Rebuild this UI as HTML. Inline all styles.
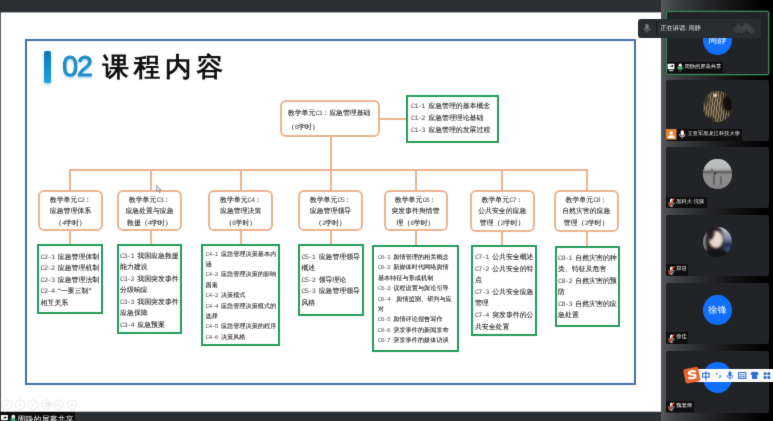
<!DOCTYPE html>
<html lang="zh">
<head>
<meta charset="utf-8">
<title>课程内容</title>
<style>
html,body{margin:0;padding:0;}
body{width:773px;height:421px;overflow:hidden;position:relative;background:#fff;font-family:"Liberation Sans",sans-serif;text-rendering:geometricPrecision;}
.abs{position:absolute;}
#all{position:absolute;left:0;top:0;width:773px;height:421px;filter:url(#soft);}
#topbar{left:-6px;top:-6px;width:667px;height:18px;background:#2d3033;box-shadow:0 1px 0 rgba(45,48,51,.4);}
#botbar{left:-6px;top:412px;width:785px;height:16px;background:#2d3033;box-shadow:0 -1px 0 rgba(45,48,51,.3);}
#leftedge{left:-6px;top:6px;width:7.3px;height:407px;background:#5d5f62;}
#slide{left:0;top:12px;width:661px;height:400px;background:#fff;}
#frame{left:25px;top:38.6px;width:607px;height:342px;border:2px solid #4672a3;}
#bluebar{left:44px;top:51px;width:6.5px;height:32px;border-radius:1.5px;background:linear-gradient(#0f78b4,#1ca4df);box-shadow:0 2px 3px rgba(30,140,200,.35);}
#num{left:62.3px;top:50.3px;font-size:28.5px;line-height:34px;color:#1f8dc8;letter-spacing:-1.1px;-webkit-text-stroke:0.95px #1f8dc8;text-shadow:0 1.5px 2.5px rgba(30,140,200,.45);}
#ttl{left:102.5px;top:49.8px;font-size:26.5px;line-height:34px;font-weight:bold;color:#111;letter-spacing:4.8px;white-space:nowrap;}
.ob{text-shadow:0 0 .5px rgba(50,50,50,.6);position:absolute;box-sizing:border-box;border:2px solid #ecb391;border-radius:6px;background:#fff;color:#383838;font-family:"Liberation Serif",serif;font-size:6.9px;line-height:11.5px;text-align:center;white-space:nowrap;}
.gb{text-shadow:0 0 .5px rgba(50,50,50,.6);position:absolute;box-sizing:border-box;border:2px solid #259c5a;background:#fff;color:#383838;font-family:"Liberation Serif",serif;font-size:6.9px;line-height:11.5px;white-space:nowrap;padding-left:1.6px;}
.gb.sm{padding-left:2.7px;}
.gb.sm{font-size:6.17px;line-height:10.4px;}
.ln{position:absolute;background:#ecb391;}
.c{font-family:"Liberation Mono",monospace;letter-spacing:-0.1em;line-height:0;color:#4a4a4a;text-shadow:none;}

#right{left:661px;top:-6px;width:118px;height:433px;background:linear-gradient(to right,#56595c 0,#46484b 8%,#3e4043 13%,#2a2b2d 33.2%,#151516 58.8%,#030303 83.5%,#000 95%);}
.tile{position:absolute;left:665.6px;width:103.8px;height:62.6px;background:#222326;border-radius:2px;box-sizing:border-box;overflow:hidden;}
.av{position:absolute;left:37.6px;width:28.6px;height:30.6px;border-radius:50%;overflow:hidden;}
.av.blue{background:#106ffb;color:#fff;text-align:center;font-size:9.2px;line-height:30.6px;white-space:nowrap;}
.lab{position:absolute;left:0.8px;bottom:0;height:11.3px;background:#0e0e0f;color:#f2f2f2;font-size:5.25px;line-height:11.3px;white-space:nowrap;}
.lab svg{position:absolute;top:0;left:0;}
#pop{left:638px;top:18.7px;width:122.8px;height:19px;background:#2a2d30;border-radius:3px;color:#e6e6e6;font-size:6.2px;line-height:19px;white-space:nowrap;}
#ime{left:694px;top:368.7px;width:85px;height:13px;background:#fdfdfe;border-radius:2px 0 0 2px;}
#bl{left:-6px;top:411.6px;width:81px;height:16.4px;padding-left:0;background:#0c0c0d;color:#f4f4f4;font-size:8.05px;line-height:13px;overflow:hidden;white-space:nowrap;}
</style>
</head>
<body>
<svg width="0" height="0" style="position:absolute"><defs><filter id="soft" x="-2%" y="-3%" width="104%" height="106%" color-interpolation-filters="sRGB"><feConvolveMatrix order="3" kernelMatrix="1 8 1 8 64 8 1 8 1" divisor="100" edgeMode="duplicate" preserveAlpha="false"/></filter></defs></svg>
<div id="all">
<div id="slide" class="abs"></div>
<div id="leftedge" class="abs"></div>
<div id="frame" class="abs"></div>
<div id="bluebar" class="abs"></div>
<div id="num" class="abs">02</div>
<div id="ttl" class="abs">课程内容</div>

<!-- connectors -->
<div class="ln" style="left:380px;top:118px;width:26px;height:2px;"></div>
<div class="ln" style="left:330px;top:136px;width:2px;height:34px;"></div>
<div class="ln" style="left:69px;top:169px;width:519px;height:2px;"></div>
<div class="ln" style="left:69px;top:169px;width:2px;height:22px;"></div>
<div class="ln" style="left:150px;top:169px;width:2px;height:22px;"></div>
<div class="ln" style="left:240px;top:169px;width:2px;height:22px;"></div>
<div class="ln" style="left:330px;top:169px;width:2px;height:22px;"></div>
<div class="ln" style="left:415px;top:169px;width:2px;height:22px;"></div>
<div class="ln" style="left:501px;top:169px;width:2px;height:22px;"></div>
<div class="ln" style="left:586px;top:169px;width:2px;height:22px;"></div>
<div class="ln" style="left:69px;top:230px;width:2px;height:15px;"></div>
<div class="ln" style="left:150px;top:230px;width:2px;height:15px;"></div>
<div class="ln" style="left:240px;top:230px;width:2px;height:15px;"></div>
<div class="ln" style="left:330px;top:230px;width:2px;height:15px;"></div>
<div class="ln" style="left:415px;top:230px;width:2px;height:16px;"></div>
<div class="ln" style="left:501px;top:230px;width:2px;height:16px;"></div>
<div class="ln" style="left:586px;top:230px;width:2px;height:17px;"></div>

<!-- C1 -->
<div class="ob" style="left:280px;top:100px;width:100.4px;height:37.4px;text-align:left;padding:5.4px 0 0 5.8px;line-height:13.7px;">教学单元<span class="c">C1</span>：应急管理基础<br>（<span class="c">6</span>学时）</div>
<div class="gb" style="left:405.5px;top:95px;width:93px;height:47.5px;padding:4.4px 0 0 3.5px;line-height:11.7px;"><span class="c">C1-1 </span>应急管理的基本概念<br><span class="c">C1-2 </span>应急管理理论基础<br><span class="c">C1-3 </span>应急管理的发展过程</div>

<!-- row 2 orange -->
<div class="ob" style="left:38px;top:190px;width:65px;height:41px;padding-top:2.6px;">教学单元<span class="c">C2</span>：<br>应急管理体系<br>（<span class="c">4</span>学时）</div>
<div class="ob" style="left:117px;top:190px;width:65px;height:41px;padding-top:2.6px;">教学单元<span class="c">C3</span>：<br>应急处置与应急<br>救援（<span class="c">4</span>学时）</div>
<div class="ob" style="left:208.2px;top:190px;width:65px;height:41px;padding-top:2.6px;">教学单元<span class="c">C4</span>：<br>应急管理决策<br>（<span class="c">6</span>学时）</div>
<div class="ob" style="left:298px;top:190px;width:65px;height:41px;padding-top:2.6px;">教学单元<span class="c">C5</span>：<br>应急管理领导<br>（<span class="c">2</span>学时）</div>
<div class="ob" style="left:383.5px;top:190px;width:64px;height:41px;padding-top:2.6px;">教学单元<span class="c">C6</span>：<br>突发事件舆情管<br>理（<span class="c">6</span>学时）</div>
<div class="ob" style="left:469.5px;top:190px;width:65.5px;height:42px;padding-top:2.6px;">教学单元<span class="c">C7</span>：<br>公共安全的应急<br>管理（<span class="c">2</span>学时）</div>
<div class="ob" style="left:553.5px;top:190px;width:65.5px;height:42px;padding-top:2.6px;">教学单元<span class="c">C8</span>：<br>自然灾害的应急<br>管理（<span class="c">2</span>学时）</div>

<!-- row 3 green -->
<div class="gb" style="left:37px;top:243.5px;width:66px;height:70px;padding-top:6.3px;"><span class="c">C2-1 </span>应急管理体制<br><span class="c">C2-2 </span>应急管理机制<br><span class="c">C2-3 </span>应急管理法制<br><span class="c">C2-4 </span>“一案三制”<br>相互关系</div>
<div class="gb" style="left:116.5px;top:243.5px;width:65.8px;height:90.3px;padding-top:5.3px;"><span class="c">C3-1 </span>我国应急救援<br>能力建设<br><span class="c">C3-2 </span>我国突发事件<br>分级响应<br><span class="c">C3-3 </span>我国突发事件<br>应急保障<br><span class="c">C3-4 </span>应急预案</div>
<div class="gb sm" style="left:200.8px;top:243.5px;width:79px;height:102px;padding-top:4px;"><span class="c">C4-1 </span>应急管理决策基本内<br>涵<br><span class="c">C4-2 </span>应急管理决策的影响<br>因素<br><span class="c">C4-3 </span>决策模式<br><span class="c">C4-4 </span>应急管理决策模式的<br>选择<br><span class="c">C4-5 </span>应急管理决策的程序<br><span class="c">C4-6 </span>决策风格</div>
<div class="gb" style="left:297.8px;top:244px;width:66px;height:72.3px;padding-top:5.8px;"><span class="c">C5-1 </span>应急管理领导<br>概述<br><span class="c">C5-2 </span>领导理论<br><span class="c">C5-3 </span>应急管理领导<br>风格</div>
<div class="gb sm" style="left:372.3px;top:245px;width:87px;height:106.5px;padding:5.9px 0 0 3.6px;"><span class="c">C6-1 </span>舆情管理的相关概念<br><span class="c">C6-2 </span>新媒体时代网络舆情<br>基本特征与形成机制<br><span class="c">C6-3 </span>议程设置与舆论引导<br><span class="c">C6-4 &nbsp;</span>舆情监测、研判与应<br>对<br><span class="c">C6-5 </span>舆情评论报告写作<br><span class="c">C6-6 </span>突发事件的新闻发布<br><span class="c">C6-7 </span>突发事件的媒体访谈</div>
<div class="gb" style="left:471.3px;top:245.2px;width:65.7px;height:90.5px;padding-top:4.8px;line-height:11.6px;"><span class="c">C7-1 </span>公共安全概述<br><span class="c">C7-2 </span>公共安全的特<br>点<br><span class="c">C7-3 </span>公共安全应急<br>管理<br><span class="c">C7-4 </span>突发事件的公<br>共安全处置</div>
<div class="gb" style="left:554.5px;top:246px;width:65.7px;height:81px;padding-top:5px;line-height:11.4px;"><span class="c">C8-1 </span>自然灾害的种<br>类、特征及危害<br><span class="c">C8-2 </span>自然灾害的预<br>防<br><span class="c">C8-3 </span>自然灾害的应<br>急处置</div>

<svg class="abs" style="left:0;top:398px" width="82" height="13" viewBox="0 0 82 13"><g fill="none" stroke="#e3e3e3" stroke-width=".8"><circle cx="6.8" cy="6.7" r="4.8"/><circle cx="20" cy="6.7" r="4.8"/><circle cx="33.2" cy="6.7" r="4.8"/><circle cx="46.6" cy="6.7" r="4.8"/><circle cx="58.8" cy="6.7" r="4.8"/><circle cx="72" cy="6.7" r="4.8"/><path d="M7.8 4.7L5.3 6.7l2.5 2M19.2 4.7l2.5 2-2.5 2M31.3 8.8l3.8-4.2M45 5.5h3.2v3.5H45zM46.2 5.5v-1h3.2v3.5h-1.2M58.3 4.6a1.7 1.7 0 1 0 .1 0M59.7 7.6l1.6 1.7M70 6.7h4"/></g></svg>
<div id="topbar" class="abs"></div>
<div id="botbar" class="abs"></div>
<svg class="abs" style="left:156.4px;top:185px" width="7" height="9" viewBox="0 0 7 9"><path d="M.6 .5v6.3l1.5-1.400 1.1 2.300.9-.4-1.1-2.200h2.1z" fill="#f2f2f2" stroke="#7a7a7a" stroke-width=".7"/></svg>
<!-- right panel -->
<div id="right" class="abs"></div>

<div class="tile" style="top:10.9px;height:64.2px;border:1px solid #358a5a;box-shadow:0 0 0 .8px rgba(28,90,54,.75);">
  <div class="av blue" style="left:36.4px;top:12.8px;">周静</div>
  <div class="lab" style="left:0;bottom:0.9px;width:56.3px;">
    <svg width="20" height="10.6" viewBox="0 0 20 10.6">
      <rect x=".6" y="1.7" width="6.8" height="5.6" rx=".6" fill="#fbfbfb"/>
      <path d="M2.6 5.3c.4-1.4 1.4-1.9 2.6-1.9v-.8l1.3 1.4-1.3 1.4v-.8c-1 0-1.9.2-2.6.7z" fill="#17181a"/>
      <rect x="2" y="8.3" width="4.2" height=".9" fill="#fbfbfb"/>
      <rect x="11.6" y="1.6" width="3.2" height="5.4" rx="1.6" fill="#f4f4f4"/>
      <rect x="11.6" y="4" width="3.2" height="3" rx="1.4" fill="#3fb56a"/>
      <path d="M10.4 5.2a2.8 2.8 0 0 0 5.6 0" fill="none" stroke="#3fb56a" stroke-width=".8"/>
      <path d="M13.2 8v1.4" stroke="#3fb56a" stroke-width=".8"/>
    </svg>
    <span style="position:absolute;left:17.8px;top:0;">周静的屏幕共享</span>
  </div>
</div>

<div class="tile" style="top:79.8px;height:60.8px;">
  <div class="av" style="top:11.3px;background:#4a4033;"><div style="position:absolute;left:-2px;top:-2px;width:33px;height:35px;filter:blur(.7px);background:radial-gradient(ellipse 8% 7% at 43% 18%,#f4f1ea 0,rgba(215,205,185,.75) 55%,rgba(120,105,80,0) 100%),radial-gradient(ellipse 24% 30% at 84% 40%,#0c0b0a 0,#15130f 62%,rgba(30,26,20,0) 100%),radial-gradient(ellipse 20% 14% at 26% 88%,#12100d 0,rgba(30,26,20,0) 100%),radial-gradient(ellipse 18% 22% at 12% 30%,#2a251d 0,rgba(40,34,26,0) 100%),repeating-linear-gradient(97deg,rgba(168,150,116,.5) 0,rgba(168,150,116,.5) 1px,rgba(46,40,30,.55) 1px,rgba(46,40,30,.55) 2.5px),repeating-linear-gradient(62deg,rgba(140,124,96,.35) 0,rgba(140,124,96,.35) 1px,rgba(0,0,0,0) 1px,rgba(0,0,0,0) 3.2px),radial-gradient(ellipse 50% 58% at 40% 55%,#8a795c 0,#75664d 55%,#3b3429 100%);"></div></div>
  <div class="lab" style="width:75.4px;">
    <svg width="22" height="10.6" viewBox="0 0 22 10.6">
      <rect x="0" y="0" width="10.5" height="10.6" fill="#ea842d"/>
      <circle cx="5.2" cy="3.9" r="1.7" fill="#fff"/>
      <path d="M1.7 9.2c.2-2.3 1.7-3.1 3.5-3.1s3.3.8 3.5 3.1z" fill="#fff"/>
      <rect x="14.6" y="1.3" width="3.4" height="5.4" rx="1.7" fill="#f6f6f6"/>
      <path d="M13.4 5a2.9 2.9 0 0 0 5.8 0" fill="none" stroke="#f0f0f0" stroke-width=".8"/>
      <path d="M16.3 8v1.3" stroke="#f0f0f0" stroke-width=".8"/>
    </svg>
    <span style="position:absolute;left:21px;top:0;">王亚军黑龙江科技大学</span>
  </div>
</div>

<div class="tile" style="top:146.9px;height:61.4px;">
  <div class="av" style="top:12px;background:#8a8a8a;"><div style="position:absolute;left:-2px;top:-2px;width:33px;height:35px;filter:blur(.7px);background:linear-gradient(#c2c3c3 0,#b9baba 30%,#a2a5a3 37%,#585b58 42.5%,#747674 46%,#8d8d8d 52%,#8a8a8a 80%,#777 100%);"><div style="position:absolute;left:10.2px;top:12.5px;width:1.6px;height:4px;background:#6b6e6b;"></div><div style="position:absolute;left:11.6px;top:18px;width:2.2px;height:10.5px;background:#64605f;border-radius:1px;"></div><div style="position:absolute;left:13px;top:15.6px;width:2.2px;height:2.6px;background:#3a3838;border-radius:1px;"></div><div style="position:absolute;left:19.3px;top:19px;width:1.8px;height:9px;background:#6a6667;border-radius:1px;"></div></div></div>
  <div class="lab" style="width:40.4px;"><svg width="9" height="10.6" viewBox="0 0 9 10.6" style="left:1px;top:.5px"><rect x="3" y="1.6" width="3" height="5" rx="1.5" fill="#f0f0f0"/><path d="M1.7 5.2a2.8 2.8 0 0 0 5.6 0" fill="none" stroke="#e8e8e8" stroke-width=".7"/><path d="M4.5 8v1.2M3 9.3h3" stroke="#e8e8e8" stroke-width=".7"/><path d="M7.4 1.4L1.6 9.2" stroke="#e5463c" stroke-width="1.3"/></svg><span style="position:absolute;left:9.8px;top:0;">黑科大-沈猛</span></div>
</div>

<div class="tile" style="top:215.4px;height:60.4px;">
  <div class="av" style="top:11.3px;background:#241c20;"><div style="position:absolute;left:-2px;top:-2px;width:33px;height:35px;filter:blur(.8px);"><div style="position:absolute;left:16px;top:0;width:17px;height:27px;background:linear-gradient(#cfd2d8 0,#9aa6ba 35%,#6e7f9e 55%,#202c52 72%,#4c5c80 100%);"></div><div style="position:absolute;left:0;top:8px;width:8px;height:17px;background:#808087;"></div><div style="position:absolute;left:5px;top:1.5px;width:17.5px;height:29px;border-radius:50% 50% 40% 40%;background:#241c20;"></div><div style="position:absolute;left:8.2px;top:6.6px;width:13.4px;height:17px;border-radius:48%;background:radial-gradient(ellipse at 50% 45%,#f0dfda 0,#e6cfc8 70%,#c9a79e 100%);"></div><div style="position:absolute;left:7.5px;top:5.5px;width:5px;height:10px;border-radius:50%;background:#2a2024;transform:rotate(18deg);"></div><div style="position:absolute;left:5px;top:24px;width:22px;height:12px;background:#141317;border-radius:45% 45% 0 0;"></div></div></div>
  <div class="lab" style="width:22px;"><svg width="9" height="10.6" viewBox="0 0 9 10.6" style="left:1px;top:.5px"><rect x="3" y="1.6" width="3" height="5" rx="1.5" fill="#f0f0f0"/><path d="M1.7 5.2a2.8 2.8 0 0 0 5.6 0" fill="none" stroke="#e8e8e8" stroke-width=".7"/><path d="M4.5 8v1.2M3 9.3h3" stroke="#e8e8e8" stroke-width=".7"/><path d="M7.4 1.4L1.6 9.2" stroke="#e5463c" stroke-width="1.3"/></svg><span style="position:absolute;left:9.8px;top:0;">郑语</span></div>
</div>

<div class="tile" style="top:283.1px;height:60.7px;">
  <div class="av blue" style="top:11.8px;">徐锋</div>
  <div class="lab" style="width:22px;"><svg width="9" height="10.6" viewBox="0 0 9 10.6" style="left:1px;top:.5px"><rect x="3" y="1.6" width="3" height="5" rx="1.5" fill="#f0f0f0"/><path d="M1.7 5.2a2.8 2.8 0 0 0 5.6 0" fill="none" stroke="#e8e8e8" stroke-width=".7"/><path d="M4.5 8v1.2M3 9.3h3" stroke="#e8e8e8" stroke-width=".7"/><path d="M7.4 1.4L1.6 9.2" stroke="#e5463c" stroke-width="1.3"/></svg><span style="position:absolute;left:9.8px;top:0;">徐佳</span></div>
</div>

<div class="tile" style="top:350.8px;height:62.2px;">
  <div class="av blue" style="top:11.2px;"></div>
  <div class="lab" style="width:27.3px;bottom:1px;"><svg width="9" height="10.6" viewBox="0 0 9 10.6" style="left:1px;top:.5px"><rect x="3" y="1.6" width="3" height="5" rx="1.5" fill="#f0f0f0"/><path d="M1.7 5.2a2.8 2.8 0 0 0 5.6 0" fill="none" stroke="#e8e8e8" stroke-width=".7"/><path d="M4.5 8v1.2M3 9.3h3" stroke="#e8e8e8" stroke-width=".7"/><path d="M7.4 1.4L1.6 9.2" stroke="#e5463c" stroke-width="1.3"/></svg><span style="position:absolute;left:9.8px;top:0;">魏老师</span></div>
</div>

<!-- speaking popup -->
<div id="pop" class="abs">
  <svg class="abs" style="left:5px;top:4px" width="8" height="11" viewBox="0 0 8 11">
    <rect x="2.3" y="1" width="3.4" height="5.6" rx="1.7" fill="#7b7d80"/>
    <path d="M1 5a3 3 0 0 0 6 0" fill="none" stroke="#7b7d80" stroke-width=".8"/>
    <path d="M4 8v1.4" stroke="#7b7d80" stroke-width=".8"/>
  </svg>
  <div class="abs" style="left:17.5px;top:3px;width:1px;height:12.6px;background:#151617;"></div>
  <span class="abs" style="left:22.4px;top:0;">正在讲话: 周静</span>
  <svg class="abs" style="left:93.5px;top:3.5px" width="24" height="13" viewBox="0 0 24 13">
    <path d="M0 8.5L6.5 0.5 10.5 5.5 6 11.5z" fill="#3b3d41"/>
    <path d="M6.2 8.5L14 0.5 23.2 8.5 19.5 12 14 7.5 9.5 12z" fill="#404246"/>
  </svg>
</div>

<!-- sogou ime -->
<div id="ime" class="abs"></div>
<svg class="abs" style="left:681.5px;top:364.5px" width="20" height="20" viewBox="0 0 20 20">
  <g transform="rotate(-12 10 10)">
    <rect x="2.3" y="2.8" width="15" height="14.6" rx="2.2" fill="#e9652b"/>
    <path d="M13.6 7.2c-1.3-1.3-6.3-1.5-6.3 .700 0 2 6 1.2 6 3.6 0 2.4-5.2 2-6.8 .600" fill="none" stroke="#fff" stroke-width="2.1" stroke-linecap="round"/>
  </g>
</svg>
<svg class="abs" style="left:700px;top:368.7px" width="73" height="13" viewBox="0 0 73 13">
  <g fill="none" stroke="#2a6fd8" stroke-width="1.1">
    <rect x="2.6" y="4.3" width="6.6" height="3.8"/>
    <path d="M5.9 2.2v9.2"/>
  </g>
  <circle cx="16.8" cy="4.8" r=".9" fill="#2a6fd8"/>
  <path d="M19.6 6.3c.900 0 1.1 1.5-.300 2.6" fill="none" stroke="#2a6fd8" stroke-width="1.1"/>
  <rect x="28.4" y="2.3" width="3.2" height="5.4" rx="1.6" fill="#2a6fd8"/>
  <path d="M27 6.2a3 3 0 0 0 6 0M30 9.2v1.5" fill="none" stroke="#2a6fd8" stroke-width=".9"/>
  <rect x="38.6" y="3.5" width="7.2" height="6" fill="none" stroke="#2a6fd8" stroke-width="1"/>
  <path d="M38.6 5.6h7.2M41 5.6v3.9M43.4 5.6v3.9M38.6 7.6h7.2" stroke="#2a6fd8" stroke-width=".6"/>
  <path d="M51.4 3.2l2.2-.600c.400 .700 1.6 .700 2 0l2.2 .600 1 2.3-1.6 .600v3.9h-5.2v-3.9l-1.6-.600z" fill="#2a6fd8"/>
  <g fill="#2a6fd8">
    <rect x="63.6" y="3.2" width="3" height="3" rx="1.2"/>
    <rect x="67.3" y="3.2" width="3" height="3" rx="1.2"/>
    <rect x="63.6" y="6.9" width="3" height="3" rx="1.2"/>
    <rect x="67.3" y="6.9" width="3" height="3" rx="1.2"/>
  </g>
</svg>

<!-- bottom-left share label -->
<div id="bl" class="abs">
  <svg class="abs" style="left:6px;top:0" width="18" height="16" viewBox="0 0 18 16">
    <rect x=".9" y="3" width="7" height="5.2" rx=".6" fill="#fbfbfb"/>
    <path d="M2.8 6.8c.4-1.4 1.4-1.9 2.6-1.9v-.8l1.3 1.4-1.3 1.4v-.8c-1 0-1.9.2-2.6.7z" fill="#151618"/>
    <rect x="2.4" y="9.2" width="4" height=".9" fill="#fbfbfb"/>
    <rect x="11.5" y="2.8" width="3.6" height="6.4" rx="1.8" fill="#f4f4f4"/>
    <rect x="11.5" y="5.8" width="3.6" height="3.4" rx="1.6" fill="#3fb56a"/>
    <path d="M10.3 7.4a3 3 0 0 0 6 0" fill="none" stroke="#3fb56a" stroke-width="1"/>
    <path d="M13.3 10.4v2" stroke="#3fb56a" stroke-width="1"/>
  </svg>
  <span class="abs" style="left:23.3px;top:1.1px;">周静的屏幕共享</span>
</div>


</div>
</body>
</html>
